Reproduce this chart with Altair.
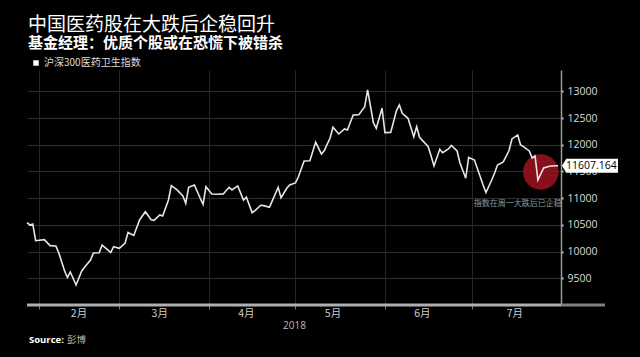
import altair as alt
import pandas as pd

CJK = "Noto Sans CJK SC"
NUM = "Open Sans"

dates = [
    "2018-01-28", "2018-01-29", "2018-01-30", "2018-01-31", "2018-02-03", "2018-02-05",
    "2018-02-07", "2018-02-08", "2018-02-10", "2018-02-11", "2018-02-12", "2018-02-14",
    "2018-02-16", "2018-02-17", "2018-02-19", "2018-02-20", "2018-02-22", "2018-02-23",
    "2018-02-25", "2018-02-26", "2018-02-27", "2018-03-01", "2018-03-03", "2018-03-04",
    "2018-03-06", "2018-03-08", "2018-03-10", "2018-03-12", "2018-03-13", "2018-03-15",
    "2018-03-16", "2018-03-18", "2018-03-19", "2018-03-21", "2018-03-23", "2018-03-24",
    "2018-03-25", "2018-03-27", "2018-03-29", "2018-03-30", "2018-03-31", "2018-04-02",
    "2018-04-04", "2018-04-06", "2018-04-08", "2018-04-09", "2018-04-11", "2018-04-13",
    "2018-04-14", "2018-04-16", "2018-04-17", "2018-04-19", "2018-04-20", "2018-04-22",
    "2018-04-23", "2018-04-25", "2018-04-26", "2018-04-28", "2018-04-29", "2018-05-01",
    "2018-05-02", "2018-05-04", "2018-05-06", "2018-05-08", "2018-05-10", "2018-05-11",
    "2018-05-13", "2018-05-14", "2018-05-16", "2018-05-18", "2018-05-19", "2018-05-21",
    "2018-05-22", "2018-05-23", "2018-05-25", "2018-05-26", "2018-05-28", "2018-05-29",
    "2018-05-31", "2018-06-01", "2018-06-03", "2018-06-05", "2018-06-06", "2018-06-07",
    "2018-06-09", "2018-06-11", "2018-06-12", "2018-06-13", "2018-06-16", "2018-06-17",
    "2018-06-18", "2018-06-20", "2018-06-21", "2018-06-23", "2018-06-24", "2018-06-26",
    "2018-06-27", "2018-06-29", "2018-06-30", "2018-07-02", "2018-07-04", "2018-07-05",
    "2018-07-06", "2018-07-08", "2018-07-09", "2018-07-10", "2018-07-12", "2018-07-14",
    "2018-07-15", "2018-07-17", "2018-07-18", "2018-07-19", "2018-07-21", "2018-07-22",
    "2018-07-23", "2018-07-24", "2018-07-26", "2018-07-28", "2018-07-30", "2018-07-31",
]
values = [
    10541, 10498, 10517, 10204, 10223, 10111,
    10105, 9979, 9642, 9515, 9618, 9375,
    9642, 9712, 9843, 9974, 9979, 10120,
    10030, 9983, 10092, 10062, 10161, 10358,
    10302, 10592, 10747, 10597, 10586, 10685,
    10667, 10966, 11234, 11154, 11041, 10905,
    11204, 11247, 10998, 10886, 11215, 11079,
    11075, 11080, 11204, 11154, 11229, 10966,
    11017, 10729, 10766, 10867, 10860, 10830,
    10953, 11204, 11008, 11185, 11247, 11285,
    11397, 11697, 11702, 12047, 11828, 11890,
    12127, 12328, 12202, 12296, 12277, 12558,
    12560, 12565, 12714, 13026, 12414, 12309,
    12684, 12227, 12230, 12639, 12745, 12590,
    12496, 12152, 12339, 12141, 11965, 11790,
    11603, 11916, 11852, 11921, 11987, 11884,
    11659, 11373, 11762, 11715, 11406, 11247,
    11107, 11341, 11472, 11622, 11678, 11893,
    12109, 12184, 11996, 11965, 11884, 11753,
    11790, 11341, 11566, 11597, 11607, 11607.164,
]
series_name = "沪深300医药卫生指数"
last_value = 11607.164

month_starts = ["2018-02-01", "2018-03-01", "2018-04-01", "2018-05-01", "2018-06-01", "2018-07-01"]
month_label_dates = ["2018-02-15", "2018-03-15", "2018-04-14", "2018-05-14", "2018-06-14", "2018-07-16"]
month_labels = ["2月", "3月", "4月", "5月", "6月", "7月"]
y_ticks = [9500, 10000, 10500, 11000, 11500, 12000, 12500, 13000]

title_text = "中国医药股在大跌后企稳回升"
subtitle_text = "基金经理：优质个股或在恐慌下被错杀"
note_text = "指数在周一大跌后已企稳"
note_date, note_value = "2018-07-17", 10891
circle_date, circle_value = "2018-07-25", 11491

W, H = 534, 235


def dt(s):
    y, m, d = (int(p) for p in s.split("-"))
    return alt.DateTime(year=y, month=m, date=d, utc=True)


xscale = alt.Scale(type="utc", domain=[dt("2018-01-28"), dt("2018-08-01")])
yscale = alt.Scale(domain=[9000, 13400], nice=False, zero=False)

df = pd.DataFrame({"date": dates, "value": values, "series": series_name})

x_axis = alt.Axis(
    values=[dt(s) for s in month_starts], labels=False, ticks=True, tickSize=4,
    tickColor="#777", grid=True, gridColor="#262626", gridWidth=1, domain=False,
    title="2018", titleFont=NUM, titleFontSize=10, titleColor="#bbbbbb",
    titleFontWeight="normal", titlePadding=11,
)
y_axis = alt.Axis(
    orient="right", values=y_ticks, grid=True, gridColor="#2e2e2e", gridWidth=1,
    domain=True, domainColor="#9a9a9a", domainWidth=1.5, ticks=True, tickSize=2,
    tickWidth=2, tickColor="#cccccc", labelFont=NUM, labelFontSize=10.5,
    labelColor="#dddddd", labelPadding=4, title=None, format="d", labelOverlap=False,
)

circle = alt.Chart(pd.DataFrame({"date": [circle_date], "value": [circle_value]})).mark_point(
    filled=True, shape="circle", size=1260, color="#8f111d", opacity=0.95
).encode(
    x=alt.X("date:T", scale=xscale, axis=x_axis),
    y=alt.Y("value:Q", scale=yscale, axis=y_axis),
)

line = alt.Chart(df).mark_line(strokeWidth=1.6).encode(
    x=alt.X("date:T", scale=xscale, axis=x_axis),
    y=alt.Y("value:Q", scale=yscale, axis=y_axis),
    color=alt.Color(
        "series:N",
        scale=alt.Scale(range=["#e6e6e6"]),
        legend=alt.Legend(
            orient="none", legendX=4, legendY=-12, title=None, symbolType="square",
            symbolSize=30, symbolFillColor="#ffffff", symbolStrokeWidth=0,
            labelColor="#dddddd", labelFontSize=10, labelFont=CJK, labelOffset=3,
        ),
    ),
)

xrule = alt.Chart(pd.DataFrame({"k": [0]})).mark_rule(color="#b0b0b0", strokeWidth=3).encode(
    x=alt.value(0), x2=alt.value(W), y=alt.value(H)
)
xrule_ext = alt.Chart(pd.DataFrame({"k": [0]})).mark_rule(color="#808080", strokeWidth=3).encode(
    x=alt.value(W), x2=alt.value(W + 44), y=alt.value(H)
)

months = alt.Chart(pd.DataFrame({"date": month_label_dates, "label": month_labels})).mark_text(
    font=CJK, fontSize=10.5, color="#cccccc", baseline="middle", align="center"
).encode(x=alt.X("date:T", scale=xscale, axis=x_axis), y=alt.value(H + 9), text="label:N")

note = alt.Chart(pd.DataFrame({"date": [note_date], "value": [note_value], "t": [note_text]})).mark_text(
    font=CJK, fontSize=8, color="#999999", baseline="middle", align="center"
).encode(
    x=alt.X("date:T", scale=xscale, axis=x_axis),
    y=alt.Y("value:Q", scale=yscale, axis=y_axis),
    text="t:N",
)

box_path = "M-4,0L-3.4,-1L4,-1L4,1L-3.4,1Z"
box = alt.Chart(pd.DataFrame({"value": [last_value]})).mark_point(
    shape=box_path, filled=True, color="#ffffff", size=196, opacity=1
).encode(x=alt.value(W + 29), y=alt.Y("value:Q", scale=yscale, axis=y_axis))

box_text = alt.Chart(pd.DataFrame({"value": [last_value], "t": [f"{last_value:.3f}"]})).mark_text(
    font=NUM, fontSize=10.5, color="#000000", align="left", baseline="middle"
).encode(x=alt.value(W + 5), y=alt.Y("value:Q", scale=yscale, axis=y_axis), text="t:N")

src1 = alt.Chart(pd.DataFrame({"t": ["Source:"]})).mark_text(
    font=NUM, fontSize=9.5, fontWeight="bold", color="#ffffff", align="left", baseline="middle"
).encode(x=alt.value(2), y=alt.value(H + 35), text="t:N")
src2 = alt.Chart(pd.DataFrame({"t": ["彭博"]})).mark_text(
    font=CJK, fontSize=9.5, color="#bbbbbb", align="left", baseline="middle"
).encode(x=alt.value(40), y=alt.value(H + 35), text="t:N")

chart = alt.layer(circle, line, xrule, xrule_ext, months, note, box, box_text, src1, src2).properties(
    width=W, height=H,
    padding={"left": 27, "top": 70, "right": 79, "bottom": 52},
    autosize=alt.AutoSizeParams(type="none"),
    background="#000000",
    title=alt.TitleParams(
        text=title_text, subtitle=subtitle_text, anchor="start", frame="group",
        font=CJK, fontSize=19, fontWeight="normal", color="#ffffff",
        subtitleFont=CJK, subtitleFontSize=15, subtitleFontWeight="bold",
        subtitleColor="#ffffff", subtitlePadding=1, offset=7, dx=1,
    ),
).configure_view(stroke=None).configure_axis(labelOverlap=False)

chart.save("out.html", embed_options={"renderer": "svg", "actions": False})
